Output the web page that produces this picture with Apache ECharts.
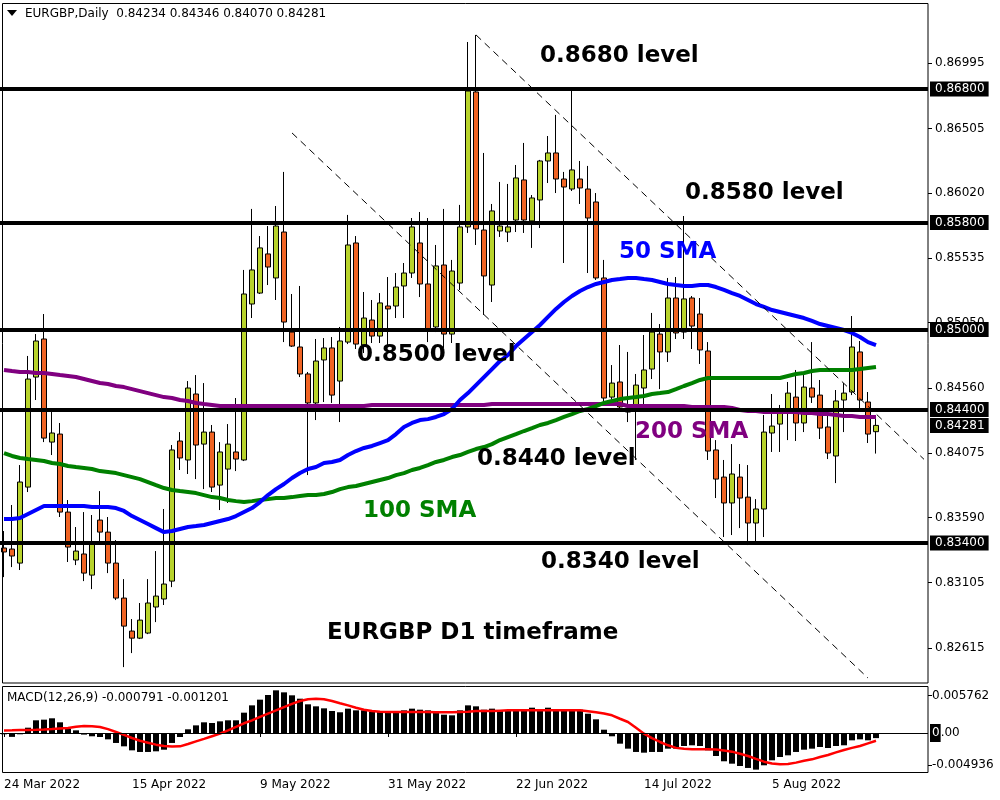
<!DOCTYPE html>
<html><head><meta charset="utf-8">
<script src="https://cdn.jsdelivr.net/npm/echarts@6/dist/echarts.min.js"></script>
<style>html,body{margin:0;padding:0;background:#fff}#c{width:1000px;height:800px}</style>
</head><body><div id="c"></div><script>
// ---- categories (trading days) ----
const months = [
  ['Mar', [24,25,28,29,30,31]],
  ['Apr', [1,4,5,6,7,8,11,12,13,14,15,18,19,20,21,22,25,26,27,28,29]],
  ['May', [2,3,4,5,6,9,10,11,12,13,16,17,18,19,20,23,24,25,26,27,30,31]],
  ['Jun', [1,2,3,6,7,8,9,10,13,14,15,16,17,20,21,22,23,24,27,28,29,30]],
  ['Jul', [1,4,5,6,7,8,11,12,13,14,15,18,19,20,21,22,25,26,27,28,29]],
  ['Aug', [1,2,3,4,5,8,9,10,11,12,15,16,17,18,19,22,23,24]]
];
const paddingSlots = ['25 Aug 2022','26 Aug 2022','29 Aug 2022','30 Aug 2022','31 Aug 2022','1 Sep 2022'];
const tickLabels = ['24 Mar 2022','15 Apr 2022','9 May 2022','31 May 2022','22 Jun 2022','14 Jul 2022','5 Aug 2022'];
const priceTicks = [0.86995,0.86505,0.86020,0.85535,0.85050,0.84560,0.84075,0.83590,0.83105,0.82615];
const macdTicks = [0.005762,-0.004936];
const levels = [0.8680,0.8580,0.8500,0.8440,0.8340];

// ---- OHLC ----
const opens = [0.83363,0.83355,0.83250,0.83819,0.84643,0.84928,0.84156,0.84216,0.83632,0.83273,
0.83318,0.83160,0.83572,0.83482,0.83250,0.82988,0.82741,0.82688,0.82726,0.82921,
0.82981,0.83115,0.84164,0.84022,0.84516,0.84141,0.84231,0.83834,0.83954,0.84082,
0.84022,0.85190,0.85272,0.85565,0.85385,0.85729,0.84980,0.84868,0.84666,0.84449,
0.84771,0.84861,0.84613,0.84905,0.85647,0.84883,0.85070,0.84950,0.85175,0.85175,
0.85325,0.85422,0.85647,0.85340,0.85018,0.85482,0.84965,0.85347,0.85767,0.86778,
0.85744,0.85332,0.85737,0.85729,0.85819,0.86119,0.85812,0.85969,0.86261,0.86321,
0.86126,0.86051,0.86126,0.86051,0.85954,0.85385,0.84493,0.84606,0.84381,0.84419,
0.84561,0.84703,0.84965,0.84831,0.85235,0.84980,0.85235,0.85115,0.84838,0.84097,
0.83894,0.83700,0.83894,0.83744,0.83550,0.83655,0.84224,0.84291,0.84374,0.84493,
0.84299,0.84561,0.84508,0.84269,0.84052,0.84471,0.84531,0.84831,0.84456,0.84234];
const closes = [0.83333,0.83303,0.83857,0.84628,0.84913,0.84186,0.84224,0.83632,0.83370,0.83340,
0.83175,0.83392,0.83482,0.83250,0.82988,0.82778,0.82688,0.82823,0.82951,0.83003,
0.83093,0.84097,0.84037,0.84561,0.84134,0.84231,0.83819,0.84082,0.84141,0.84029,
0.85265,0.85445,0.85610,0.85467,0.85774,0.85055,0.84875,0.84666,0.84449,0.84763,
0.84861,0.84508,0.84913,0.85632,0.84890,0.85085,0.84950,0.85198,0.85153,0.85317,
0.85422,0.85767,0.85340,0.84995,0.85475,0.84965,0.85437,0.85767,0.86785,0.85752,
0.85400,0.85887,0.85774,0.85767,0.86134,0.85819,0.85984,0.86261,0.86321,0.86126,
0.86066,0.86194,0.86059,0.85834,0.85385,0.84486,0.84598,0.84419,0.84411,0.84583,
0.84696,0.84980,0.84831,0.85235,0.84973,0.85228,0.85025,0.84846,0.84089,0.83879,
0.83700,0.83917,0.83737,0.83550,0.83655,0.84231,0.84276,0.84381,0.84523,0.84299,
0.84568,0.84493,0.84261,0.84074,0.84464,0.84523,0.84868,0.84471,0.84216,0.84281];
const highs = [0.83490,0.83685,0.83984,0.84801,0.84965,0.85115,0.84381,0.84299,0.83722,0.83520,
0.83632,0.83610,0.83789,0.83595,0.83422,0.83130,0.82831,0.82951,0.83130,0.83340,
0.83655,0.84134,0.84231,0.84613,0.84658,0.84598,0.84284,0.84156,0.84291,0.84486,
0.85445,0.85902,0.85699,0.85774,0.85924,0.86179,0.85265,0.85325,0.84681,0.84928,
0.84935,0.84943,0.85018,0.85857,0.85699,0.85280,0.85220,0.85272,0.85392,0.85422,
0.85497,0.85834,0.85879,0.85834,0.85632,0.85902,0.85520,0.85932,0.87152,0.87205,
0.86321,0.85939,0.86104,0.86089,0.86231,0.86396,0.86006,0.86269,0.86448,0.86606,
0.86179,0.86793,0.86261,0.86224,0.86021,0.85520,0.84733,0.84883,0.84831,0.84666,
0.84958,0.85123,0.85040,0.85385,0.85392,0.85849,0.85250,0.85235,0.84905,0.84171,
0.84022,0.84141,0.83992,0.83984,0.83729,0.84359,0.84516,0.84434,0.84606,0.84696,
0.84666,0.84905,0.84621,0.84374,0.84546,0.84598,0.85100,0.84913,0.84531,0.84346];
const lows = [0.83145,0.83220,0.83198,0.83782,0.84471,0.84156,0.84059,0.83595,0.83258,0.83235,
0.83115,0.83055,0.83400,0.83175,0.82973,0.82471,0.82576,0.82681,0.82718,0.82808,
0.82936,0.83070,0.83947,0.83917,0.83879,0.83804,0.83782,0.83647,0.83700,0.83939,
0.84014,0.85085,0.85265,0.85332,0.85220,0.84905,0.84868,0.84643,0.83909,0.84321,
0.84456,0.84449,0.84306,0.84890,0.84853,0.84823,0.84898,0.84898,0.84883,0.85085,
0.85085,0.85385,0.85242,0.84905,0.84980,0.84861,0.84898,0.85295,0.85722,0.85632,
0.85108,0.85205,0.85692,0.85654,0.85729,0.85722,0.85610,0.85759,0.86096,0.86021,
0.85497,0.86036,0.85939,0.85422,0.85370,0.84456,0.84464,0.84396,0.84306,0.84022,
0.84419,0.84628,0.84553,0.84756,0.84928,0.84928,0.84853,0.84741,0.84022,0.83737,
0.83445,0.83460,0.83512,0.83385,0.83415,0.83445,0.84082,0.84082,0.84171,0.84164,
0.84231,0.84449,0.84179,0.84029,0.83849,0.84231,0.84508,0.84396,0.84149,0.84070];

// ---- moving averages ----
const sma50 = [0.83580,0.83580,0.83587,0.83617,0.83647,0.83677,0.83677,0.83677,0.83677,0.83677,
0.83677,0.83670,0.83670,0.83670,0.83662,0.83640,0.83602,0.83572,0.83542,0.83512,
0.83482,0.83490,0.83505,0.83520,0.83527,0.83535,0.83550,0.83565,0.83580,0.83602,
0.83632,0.83662,0.83707,0.83759,0.83804,0.83842,0.83887,0.83924,0.83954,0.83969,
0.83999,0.84007,0.84022,0.84059,0.84089,0.84112,0.84127,0.84149,0.84171,0.84216,
0.84269,0.84299,0.84321,0.84328,0.84344,0.84366,0.84404,0.84471,0.84523,0.84583,
0.84643,0.84703,0.84763,0.84808,0.84875,0.84928,0.84980,0.85033,0.85093,0.85153,
0.85205,0.85250,0.85287,0.85317,0.85340,0.85355,0.85370,0.85377,0.85385,0.85385,
0.85377,0.85370,0.85355,0.85340,0.85332,0.85325,0.85325,0.85332,0.85332,0.85317,
0.85295,0.85272,0.85250,0.85220,0.85190,0.85168,0.85145,0.85130,0.85115,0.85100,
0.85085,0.85063,0.85040,0.85025,0.85010,0.84995,0.84973,0.84943,0.84905,0.84883];
const sma100 = [0.84074,0.84052,0.84037,0.84029,0.84022,0.84014,0.83999,0.83992,0.83977,0.83969,
0.83962,0.83954,0.83939,0.83932,0.83924,0.83909,0.83894,0.83879,0.83857,0.83834,
0.83812,0.83797,0.83789,0.83782,0.83774,0.83759,0.83744,0.83737,0.83722,0.83714,
0.83707,0.83714,0.83722,0.83729,0.83737,0.83737,0.83744,0.83752,0.83759,0.83759,
0.83767,0.83782,0.83804,0.83819,0.83827,0.83842,0.83857,0.83872,0.83887,0.83909,
0.83924,0.83947,0.83962,0.83984,0.84007,0.84022,0.84044,0.84059,0.84082,0.84104,
0.84119,0.84141,0.84171,0.84194,0.84216,0.84239,0.84261,0.84284,0.84299,0.84321,
0.84344,0.84366,0.84389,0.84404,0.84426,0.84449,0.84464,0.84478,0.84486,0.84493,
0.84501,0.84516,0.84523,0.84531,0.84553,0.84576,0.84598,0.84621,0.84636,0.84636,
0.84636,0.84636,0.84636,0.84636,0.84636,0.84636,0.84636,0.84636,0.84651,0.84666,
0.84673,0.84688,0.84696,0.84696,0.84696,0.84696,0.84696,0.84703,0.84711,0.84718];
const sma200 = [0.84696,0.84688,0.84681,0.84681,0.84673,0.84673,0.84666,0.84658,0.84651,0.84643,
0.84628,0.84613,0.84598,0.84591,0.84576,0.84568,0.84553,0.84538,0.84523,0.84508,
0.84493,0.84486,0.84471,0.84464,0.84449,0.84441,0.84434,0.84426,0.84426,0.84426,
0.84426,0.84426,0.84426,0.84426,0.84426,0.84426,0.84426,0.84426,0.84426,0.84426,
0.84426,0.84426,0.84426,0.84426,0.84426,0.84426,0.84434,0.84434,0.84434,0.84434,
0.84434,0.84434,0.84434,0.84434,0.84434,0.84434,0.84434,0.84434,0.84434,0.84434,
0.84434,0.84441,0.84441,0.84441,0.84441,0.84441,0.84441,0.84441,0.84441,0.84441,
0.84441,0.84441,0.84441,0.84441,0.84441,0.84441,0.84441,0.84441,0.84426,0.84426,
0.84426,0.84426,0.84426,0.84426,0.84426,0.84426,0.84419,0.84419,0.84419,0.84419,
0.84419,0.84411,0.84396,0.84389,0.84389,0.84381,0.84381,0.84381,0.84381,0.84381,
0.84374,0.84374,0.84366,0.84366,0.84359,0.84351,0.84351,0.84344,0.84344,0.84344];

// ---- MACD(12,26,9) ----
const macdMain = [-0.0002,-0.0006,-0.0002,0.00082,0.00196,0.00206,0.00227,0.00165,0.00067,0.00041,
-0.00025,-0.00051,-0.00062,-0.00098,-0.00154,-0.00206,-0.00268,-0.00293,-0.00293,-0.00283,
-0.00258,-0.00154,-0.00062,0.00057,0.00118,0.00165,0.00154,0.0018,0.00196,0.00196,
0.00314,0.00427,0.00515,0.00587,0.00659,0.00628,0.00582,0.0053,0.00443,0.00412,
0.00381,0.0034,0.0032,0.00376,0.0035,0.0035,0.00329,0.00324,0.0034,0.0034,
0.0035,0.00376,0.0036,0.0035,0.0034,0.00283,0.00273,0.0035,0.00427,0.00412,
0.0036,0.00376,0.0034,0.0034,0.0035,0.0035,0.00391,0.0036,0.00391,0.0036,
0.0036,0.0036,0.0036,0.00298,0.00211,0.00051,-0.00051,-0.00165,-0.00242,-0.00293,
-0.00304,-0.00293,-0.00293,-0.00242,-0.00242,-0.00201,-0.0019,-0.00201,-0.00268,-0.00355,
-0.00437,-0.00474,-0.0051,-0.0054,-0.00566,-0.00499,-0.00422,-0.00371,-0.00345,-0.00293,
-0.00258,-0.00242,-0.00216,-0.00232,-0.00201,-0.0019,-0.00113,-0.00098,-0.00113,-0.000791];
const macdSignal = [0.0004,0.00042,0.00045,0.00048,0.0005,0.00055,0.00062,0.0007,0.00077,0.00095,
0.00108,0.00105,0.00093,0.0006,0.00015,-0.0003,-0.00077,-0.0012,-0.0015,-0.0018,
-0.002,-0.00208,-0.00206,-0.0017,-0.00129,-0.0009,-0.0005,-0.0001,0.0004,0.00093,
0.0015,0.00196,0.0025,0.003,0.0035,0.004,0.0045,0.00494,0.0052,0.0053,
0.0052,0.00494,0.0046,0.00427,0.0039,0.0036,0.0034,0.0033,0.00325,0.00324,
0.00324,0.00324,0.00324,0.00324,0.00322,0.0032,0.0032,0.00325,0.0033,0.0034,
0.0034,0.0034,0.00345,0.0035,0.0035,0.0035,0.0035,0.0035,0.0035,0.0035,
0.0035,0.0035,0.0035,0.00335,0.0032,0.003,0.00273,0.0022,0.0017,0.0008,
-0.0001,-0.0008,-0.00139,-0.0019,-0.0023,-0.00245,-0.0025,-0.00252,-0.0025,-0.00255,
-0.0027,-0.00288,-0.0032,-0.00355,-0.004,-0.00443,-0.0047,-0.00484,-0.0048,-0.00458,
-0.0043,-0.00407,-0.0037,-0.0034,-0.003,-0.00262,-0.0023,-0.002,-0.0016,-0.001201];

// trend lines: [barIndex, price] pairs
const trendLines = [[[36,0.86471],[108,0.82389]], [[59,0.87205],[115,0.84027]]];

// ---- build ----
const categories = [];
months.forEach(([m, days]) => days.forEach(d => categories.push(d + ' ' + m + ' 2022')));
paddingSlots.forEach(s => categories.push(s));
const candleData = opens.map((o, i) => [o, closes[i], lows[i], highs[i]]);
const tickSet = new Set(tickLabels.map(t => categories.indexOf(t)));
const last = opens.length - 1;
const FONT = 'DejaVu Sans';
const BOLD = {fontFamily: FONT, fontWeight: 'bold', fontSize: 23};
const priceLabel = {show: true, position: 'end', distance: 2, formatter: p => Number(p.value).toFixed(5),
  color: '#fff', backgroundColor: '#000', padding: [2, 4, 1, 5], fontFamily: FONT, fontSize: 12};

const chart = echarts.init(document.getElementById('c'));
const txt = (s, x, y, color) => ({type: 'text', x: x, y: y, z: 50,
  style: Object.assign({text: s, fill: color, textVerticalAlign: 'middle'}, BOLD)});

chart.setOption({
  animation: false,
  backgroundColor: '#fff',
  grid: [
    {left: -1, top: 3, width: 929, height: 680},
    {left: -1, top: 686, width: 929, height: 87}
  ],
  xAxis: [
    {type: 'category', gridIndex: 0, data: categories, boundaryGap: true, show: false},
    {type: 'category', gridIndex: 1, data: categories, boundaryGap: true,
      axisLine: {show: false},
      axisTick: {show: true, alignWithLabel: true, interval: i => tickSet.has(i), length: 4, lineStyle: {color: '#000'}},
      axisLabel: {interval: i => tickSet.has(i), align: 'left', margin: 6, color: '#000', fontFamily: FONT, fontSize: 12},
      splitLine: {show: false}}
  ],
  yAxis: [
    {type: 'value', gridIndex: 0, position: 'right', min: 0.82352, max: 0.87444, scale: true,
      splitLine: {show: false}, axisLine: {show: false},
      axisTick: {show: true, customValues: priceTicks, length: 4, lineStyle: {color: '#000'}},
      axisLabel: {customValues: priceTicks, formatter: v => v.toFixed(5), margin: 7, color: '#000', fontFamily: FONT, fontSize: 12}},
    {type: 'value', gridIndex: 1, position: 'right', min: -0.00618, max: 0.00726,
      splitLine: {show: false}, axisLine: {show: false},
      axisTick: {show: true, customValues: macdTicks, length: 4, lineStyle: {color: '#000'}},
      axisLabel: {customValues: macdTicks, formatter: v => v.toFixed(6), margin: 4, color: '#000', fontFamily: FONT, fontSize: 12}}
  ],
  series: [
    {type: 'candlestick', xAxisIndex: 0, yAxisIndex: 0, data: candleData, barWidth: 5, z: 2,
      itemStyle: {color: '#b8d32c', color0: '#f06424', borderColor: '#000', borderColor0: '#000', borderWidth: 1}},
    {type: 'line', xAxisIndex: 0, yAxisIndex: 0, data: sma200, showSymbol: false, z: 3,
      lineStyle: {color: '#800080', width: 4}},
    {type: 'line', xAxisIndex: 0, yAxisIndex: 0, data: sma100, showSymbol: false, z: 3,
      lineStyle: {color: '#008000', width: 4}},
    {type: 'line', xAxisIndex: 0, yAxisIndex: 0, data: sma50, showSymbol: false, z: 3,
      lineStyle: {color: '#0000ff', width: 4}},
    {type: 'line', xAxisIndex: 0, yAxisIndex: 0, data: [], z: 4,
      markLine: {silent: true, symbol: ['none', 'none'], animation: false, precision: 5,
        label: priceLabel,
        lineStyle: {color: '#000', width: 4, type: 'solid'},
        data: levels.map(v => ({yAxis: v}))
          .concat(trendLines.map(tl => [
            {coord: tl[0], lineStyle: {color: '#000', width: 1, type: [7, 5]}, label: {show: false}},
            {coord: tl[1]}
          ]))
      }},
    // current bid price label (no visible line)
    {type: 'line', xAxisIndex: 0, yAxisIndex: 0, data: [], z: 5,
      markLine: {silent: true, symbol: ['none', 'none'], animation: false, precision: 5,
        label: priceLabel,
        lineStyle: {color: 'rgba(0,0,0,0)', width: 1, type: 'solid'},
        data: [{yAxis: closes[last]}]}},
    {type: 'bar', xAxisIndex: 1, yAxisIndex: 1, data: macdMain, barWidth: 6, z: 2,
      itemStyle: {color: '#000'}},
    {type: 'line', xAxisIndex: 1, yAxisIndex: 1, data: macdSignal, showSymbol: false, z: 3,
      lineStyle: {color: '#ff0000', width: 2.5}},
    {type: 'line', xAxisIndex: 1, yAxisIndex: 1, data: [], z: 1,
      markLine: {silent: true, symbol: ['none', 'none'], animation: false, precision: 6,
        lineStyle: {color: '#000', width: 1, type: 'solid'},
        label: {show: true, position: 'end', distance: 2, formatter: '{w|0}{b|.00}',
          rich: {w: {color: '#fff', backgroundColor: '#000', padding: [3, 1, 3, 2], fontFamily: FONT, fontSize: 12},
                 b: {color: '#000', fontFamily: FONT, fontSize: 12}}},
        data: [{yAxis: 0}]}}
  ],
  graphic: [
    {type: 'rect', z: 60, shape: {x: 2.5, y: 3.5, width: 925.5, height: 679.5}, style: {fill: null, stroke: '#000', lineWidth: 1}},
    {type: 'rect', z: 60, shape: {x: 2.5, y: 686.5, width: 925.5, height: 86}, style: {fill: null, stroke: '#000', lineWidth: 1}},
    {type: 'polygon', z: 60, shape: {points: [[7, 10], [17, 10], [12, 16]]}, style: {fill: '#000'}},
    {type: 'text', x: 25, y: 14, z: 60, style: {text: 'EURGBP,Daily  ' + [opens[last], highs[last], lows[last], closes[last]].map(v => v.toFixed(5)).join(' '),
      fill: '#000', fontFamily: FONT, fontSize: 12, textVerticalAlign: 'middle'}},
    {type: 'text', x: 7, y: 698, z: 60, style: {text: 'MACD(12,26,9) ' + macdMain[last].toFixed(6) + ' ' + macdSignal[last].toFixed(6),
      fill: '#000', fontFamily: FONT, fontSize: 12, textVerticalAlign: 'middle'}},
    txt('0.8680 level', 540, 56, '#000'),
    txt('0.8580 level', 685, 193, '#000'),
    txt('50 SMA', 619, 252, '#0000ff'),
    txt('0.8500 level', 357, 355, '#000'),
    txt('200 SMA', 635, 432, '#800080'),
    txt('0.8440 level', 477, 459, '#000'),
    txt('100 SMA', 363, 511, '#008000'),
    txt('0.8340 level', 541, 562, '#000'),
    txt('EURGBP D1 timeframe', 327, 633, '#000')
  ]
});
</script></body></html>
